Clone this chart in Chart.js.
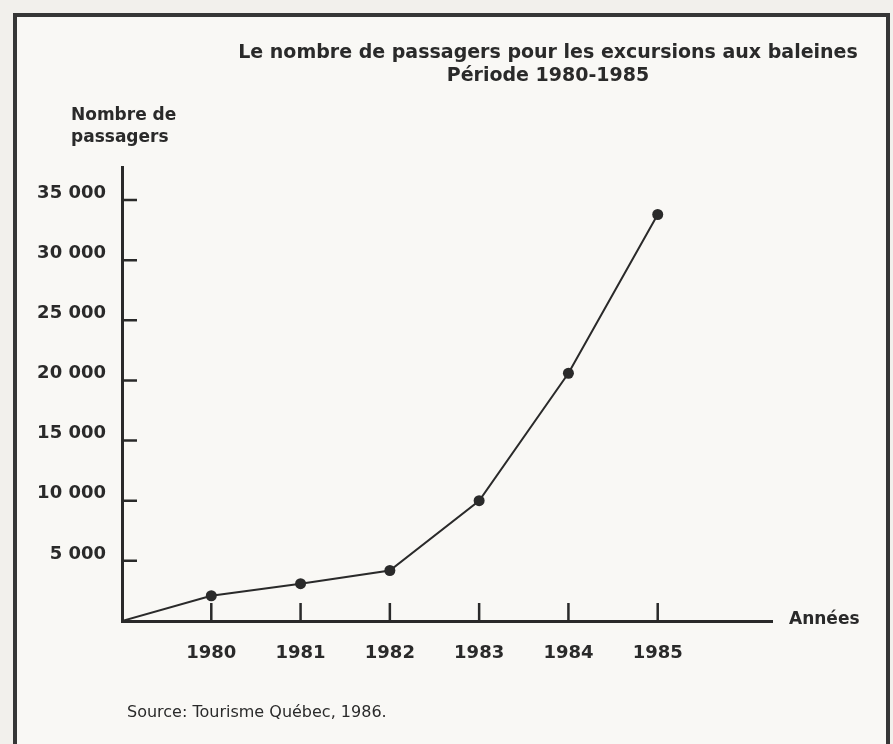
<!DOCTYPE html>
<html>
<head>
<meta charset="utf-8">
<title>Passagers - excursions aux baleines</title>
<script src="https://cdn.jsdelivr.net/npm/chart.js@4.4.1/dist/chart.umd.min.js"></script>
<style>
	html, body { margin: 0; padding: 0; background: #f2f0ec; overflow: hidden; }
	#frame { position: absolute; left: 13px; top: 13px; width: 869px; height: 800px; border: 4px solid #363636; background: #f9f8f5; }
	#wrap { position: absolute; left: 0; top: 0; width: 893px; height: 744px; }
</style>
</head>
<body>
<div id="frame"></div>
<div id="wrap"><canvas id="myChart" width="893" height="744"></canvas></div>
<script>
// data
const years = [1980, 1981, 1982, 1983, 1984, 1985];
const passengers = [2100, 3100, 4200, 10000, 20600, 33800];
const yTicks = [5000, 10000, 15000, 20000, 25000, 30000, 35000];
const originYear = 1979;   // the line starts at the corner of the axes

const titleLines = ["Le nombre de passagers pour les excursions aux baleines", "Période 1980-1985"];
const yAxisTitle = ["Nombre de", "passagers"];
const xAxisTitle = "Années";
const sourceText = "Source: Tourisme Québec, 1986.";

const ink = "#2a2a2a";
const fam = "'DejaVu Sans', sans-serif";

function thousands(v) {
	return String(v).replace(/\B(?=(\d{3})+(?!\d))/g, " ");
}

// tick marks drawn inside the axes + the free texts around the plot
const extras = {
	id: "extras",
	afterDraw(chart) {
		const ctx = chart.ctx;
		const area = chart.chartArea;
		const xs = chart.scales.x;
		const ys = chart.scales.y;
		ctx.save();
		ctx.strokeStyle = ink;
		ctx.lineWidth = 2.5;
		ctx.beginPath();
		yTicks.forEach(function(v) {
			const py = ys.getPixelForValue(v);
			ctx.moveTo(area.left, py);
			ctx.lineTo(area.left + 15, py);
		});
		years.forEach(function(v) {
			const px = xs.getPixelForValue(v);
			ctx.moveTo(px, area.bottom);
			ctx.lineTo(px, area.bottom - 18);
		});
		ctx.stroke();

		ctx.fillStyle = ink;
		ctx.textBaseline = "alphabetic";
		ctx.textAlign = "center";
		ctx.font = "bold 19px " + fam;
		ctx.fillText(titleLines[0], 548, 58);
		ctx.fillText(titleLines[1], 548, 81);

		ctx.textAlign = "left";
		ctx.font = "bold 17px " + fam;
		ctx.fillText(yAxisTitle[0], 71, 120);
		ctx.fillText(yAxisTitle[1], 71, 142);
		ctx.fillText(xAxisTitle, area.right + 17, area.bottom + 3);

		ctx.font = "16px " + fam;
		ctx.fillText(sourceText, 127, 717);
		ctx.restore();
	}
};

document.addEventListener("DOMContentLoaded", function() {
	const points = [{ x: originYear, y: 0 }];
	for (let i = 0; i < years.length; i++) {
		points.push({ x: years[i], y: passengers[i] });
	}
	const radii = points.map(function(p, i) { return i === 0 ? 0 : 5.5; });

	const ctx = document.getElementById("myChart").getContext("2d");
	const chart = new Chart(ctx, {
		type: "line",
		data: {
			datasets: [{
				label: "Nombre de passagers",
				data: points,
				borderColor: ink,
				borderWidth: 2,
				backgroundColor: ink,
				pointRadius: radii,
				pointBackgroundColor: ink,
				pointBorderWidth: 0,
				tension: 0
			}]
		},
		options: {
			responsive: false,
			animation: false,
			devicePixelRatio: 1,
			layout: { padding: { left: 0, right: 121, top: 167, bottom: 0 } },
			plugins: {
				legend: { display: false },
				tooltip: { enabled: false },
				title: { display: false }
			},
			scales: {
				x: {
					type: "linear",
					min: originYear,
					max: 1986.28,
					afterBuildTicks: function(s) { s.ticks = years.map(function(v) { return { value: v }; }); },
					afterFit: function(s) { s.height = 123; },
					grid: { display: false, drawTicks: false },
					border: { display: true, color: ink, width: 3 },
					ticks: {
						color: ink,
						padding: 22,
						font: { family: fam, size: 18, weight: "bold" },
						callback: function(v) { return String(v); }
					}
				},
				y: {
					min: 0,
					max: 37750,
					afterBuildTicks: function(s) { s.ticks = yTicks.map(function(v) { return { value: v }; }); },
					afterFit: function(s) { s.width = 122; },
					grid: { display: false, drawTicks: false },
					border: { display: true, color: ink, width: 3 },
					ticks: {
						color: ink,
						padding: 16,
						labelOffset: -7,
						font: { family: fam, size: 18, weight: "bold" },
						callback: function(v) { return thousands(v); }
					}
				}
			}
		},
		plugins: [extras]
	});
});
</script>
</body>
</html>
